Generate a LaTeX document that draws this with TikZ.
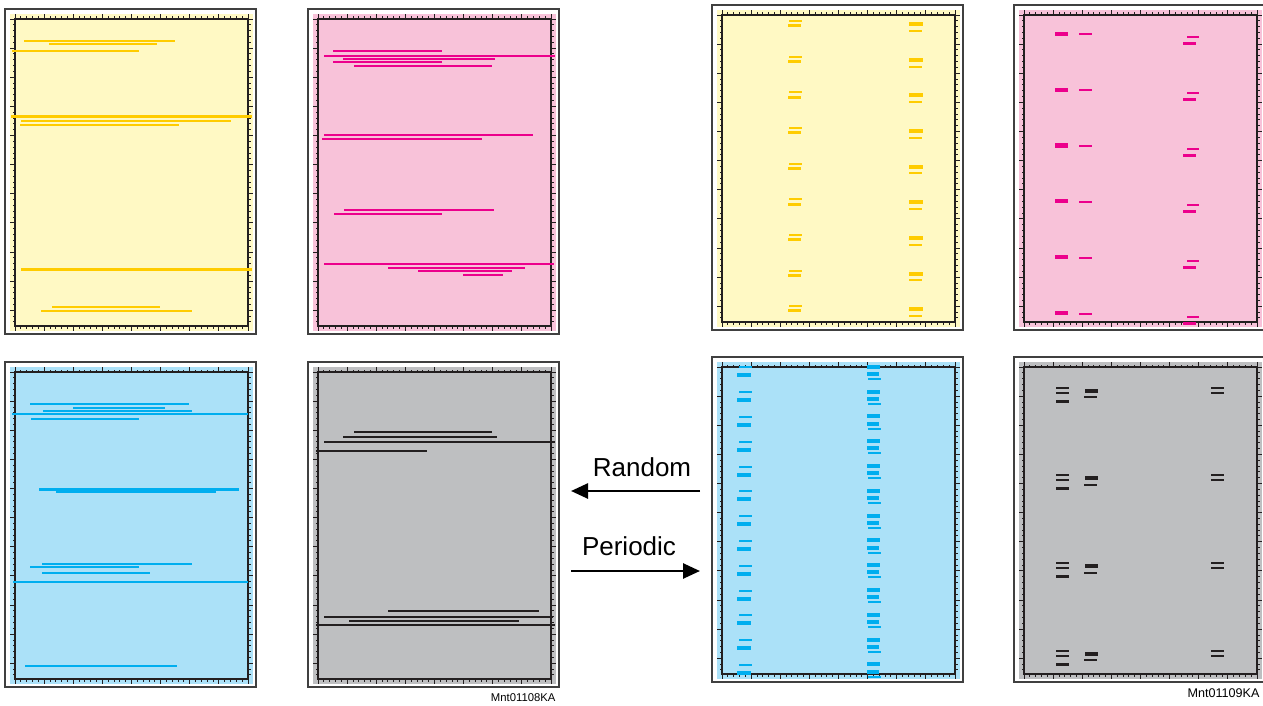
\documentclass[tikz,border=0pt]{standalone}
\usepackage{fontspec}
\setmainfont{Liberation Sans}
\usetikzlibrary{arrows.meta}

\definecolor{fillY}{RGB}{255,249,196}
\definecolor{fillM}{RGB}{248,194,217}
\definecolor{fillC}{RGB}{171,225,248}
\definecolor{fillK}{RGB}{190,191,193}
\definecolor{inkY}{RGB}{255,204,0}
\definecolor{inkM}{RGB}{236,0,140}
\definecolor{inkC}{RGB}{0,174,239}
\definecolor{inkK}{RGB}{35,31,32}

\begin{document}
\begin{tikzpicture}[x=1pt, y=-1pt,
    frame/.style={draw=black!75, line width=1.3pt},
    axis/.style={draw=inkK, line width=1.3pt},
    tick/.style={draw=inkK, line width=0.9pt},
    hair/.style={line width=1.3pt},
    mid/.style={line width=2pt},
    bold/.style={line width=3pt},
    block/.style={line width=4pt},
    arrowline/.style={line width=2.6pt, -{Triangle[length=17pt, width=15pt]}},
    lbl/.style={font=\fontsize{26}{30}\selectfont},
    code/.style={font=\fontsize{11.3}{13}\selectfont}]
\useasboundingbox (0,0) rectangle (1263,706);

% frames, backgrounds and tick axes of the eight panels
\foreach \px/\py/\fc in {5/9/fillY, 308/9/fillM, 5/362/fillC, 308/362/fillK,
                         712/5/fillY, 1014/5/fillM, 712/357/fillC, 1014/357/fillK} {
    \draw[frame] (\px,\py) rectangle ++(251,325);
    \fill[\fc] (\px+5,\py+5) rectangle (\px+248,\py+322);
    \foreach \i in {0,...,40} {
        \pgfmathsetmacro\tl{mod(\i,5)==0 ? 5 : 2.5}
        \draw[tick] (\px+10+5.825*\i,\py+10) -- ++(0,-\tl);
        \draw[tick] (\px+10+5.825*\i,\py+317) -- ++(0,\tl);
    }
    \foreach \j in {0,...,52} {
        \pgfmathsetmacro\tl{mod(\j,5)==0 ? 5 : 2.5}
        \draw[tick] (\px+10,\py+10+5.825*\j) -- ++(-\tl,0);
        \draw[tick] (\px+243,\py+10+5.825*\j) -- ++(\tl,0);
    }
    \draw[axis] (\px+10,\py+10) rectangle (\px+243,\py+317);
}

% random streaks, yellow
\draw[inkY, hair] (24,41) -- (175,41);
\draw[inkY, hair] (49,44) -- (157,44);
\draw[inkY, mid] (12,51) -- (139,51);
\draw[inkY, bold] (11,117) -- (252,117);
\draw[inkY, hair] (21,121) -- (231,121);
\draw[inkY, hair] (20,125) -- (179,125);
\draw[inkY, bold] (21,269) -- (252,269);
\draw[inkY, hair] (52,307) -- (160,307);
\draw[inkY, hair] (41,311) -- (192,311);

% random streaks, magenta
\draw[inkM, mid] (333,51) -- (442,51);
\draw[inkM, mid] (324,56) -- (555,56);
\draw[inkM, hair] (343,59) -- (495,59);
\draw[inkM, hair] (333,62) -- (442,62);
\draw[inkM, mid] (354,66) -- (492,66);
\draw[inkM, hair] (324,135) -- (533,135);
\draw[inkM, hair] (322,139) -- (482,139);
\draw[inkM, hair] (344,210) -- (494,210);
\draw[inkM, hair] (334,214) -- (442,214);
\draw[inkM, mid] (324,264) -- (554,264);
\draw[inkM, hair] (388,268) -- (525,268);
\draw[inkM, hair] (418,271) -- (512,271);
\draw[inkM, mid] (463,275) -- (503,275);

% random streaks, cyan
\draw[inkC, mid] (30,404) -- (189,404);
\draw[inkC, hair] (73,408) -- (165,408);
\draw[inkC, hair] (43,411) -- (192,411);
\draw[inkC, mid] (12,414) -- (248,414);
\draw[inkC, hair] (31,419) -- (139,419);
\draw[inkC, bold] (39,489) -- (239,489);
\draw[inkC, hair] (56,492) -- (216,492);
\draw[inkC, hair] (42,564) -- (192,564);
\draw[inkC, hair] (30,567) -- (139,567);
\draw[inkC, hair] (42,573) -- (150,573);
\draw[inkC, mid] (13,582) -- (248,582);
\draw[inkC, hair] (25,666) -- (177,666);

% random streaks, black
\draw[inkK, mid] (354,432) -- (492,432);
\draw[inkK, hair] (343,437) -- (497,437);
\draw[inkK, mid] (324,442) -- (555,442);
\draw[inkK, hair] (316,451) -- (427,451);
\draw[inkK, hair] (388,611) -- (539,611);
\draw[inkK, mid] (324,617) -- (553,617);
\draw[inkK, hair] (349,621) -- (519,621);
\draw[inkK, mid] (316,625) -- (555,625);

% periodic marks, yellow
\foreach \k in {0,...,8} {
    \pgfmathsetmacro\b{35.6*\k}
    \draw[inkY, mid] (789,21.3+\b) -- (802,21.3+\b);
    \draw[inkY, bold] (788,26+\b) -- (801,26+\b);
    \draw[inkY, block] (909,24.3+\b) -- (923,24.3+\b);
    \draw[inkY, mid] (909,31+\b) -- (922,31+\b);
}

% periodic marks, magenta
\foreach \k in {0,...,5} {
    \pgfmathsetmacro\b{55.9*\k}
    \draw[inkM, block] (1055,33.7+\b) -- (1068,33.7+\b);
    \draw[inkM, mid] (1079,34.3+\b) -- (1092,34.3+\b);
    \draw[inkM, mid] (1187,37+\b) -- (1199,37+\b);
    \draw[inkM, bold] (1183,44+\b) -- (1196,44+\b);
}

% periodic marks, cyan
\foreach \k in {0,...,12} {
    \pgfmathsetmacro\b{24.8*\k}
    \draw[inkC, mid] (739,367.3+\b) -- (752,367.3+\b);
    \draw[inkC, block] (737,375.3+\b) -- (751,375.3+\b);
    \draw[inkC, block] (867,366.7+\b) -- (880,366.7+\b);
    \draw[inkC, block] (867,374+\b) -- (879,374+\b);
    \draw[inkC, mid] (868,379+\b) -- (881,379+\b);
}

% periodic marks, black
\foreach \k in {0,...,3} {
    \pgfmathsetmacro\b{87.6*\k}
    \draw[inkK, mid] (1056,387.7+\b) -- (1069,387.7+\b);
    \draw[inkK, mid] (1056,392.7+\b) -- (1069,392.7+\b);
    \draw[inkK, bold] (1056,401.3+\b) -- (1069,401.3+\b);
    \draw[inkK, block] (1085,390.7+\b) -- (1098,390.7+\b);
    \draw[inkK, mid] (1084,397.3+\b) -- (1097,397.3+\b);
    \draw[inkK, mid] (1211,387.7+\b) -- (1224,387.7+\b);
    \draw[inkK, mid] (1211,392.7+\b) -- (1224,392.7+\b);
}

% arrows between the two groups
\coordinate (rndtail) at (700,491);
\coordinate (rndhead) at (571,491);
\coordinate (pertail) at (571,571);
\coordinate (perhead) at (700,571);
\draw[arrowline] (rndtail) -- (rndhead);
\draw[arrowline] (pertail) -- (perhead);
\node[lbl, anchor=base] (rndlbl) at (642,476) {Random};
\node[lbl, anchor=base] (perlbl) at (629,555) {Periodic};

\node[code, anchor=base east] (codeA) at (559,701) {Mnt01108KA};
\node[code, font=\fontsize{12.6}{14}\selectfont, anchor=base east] (codeB) at (1263,697) {Mnt01109KA};
\end{tikzpicture}
\end{document}
